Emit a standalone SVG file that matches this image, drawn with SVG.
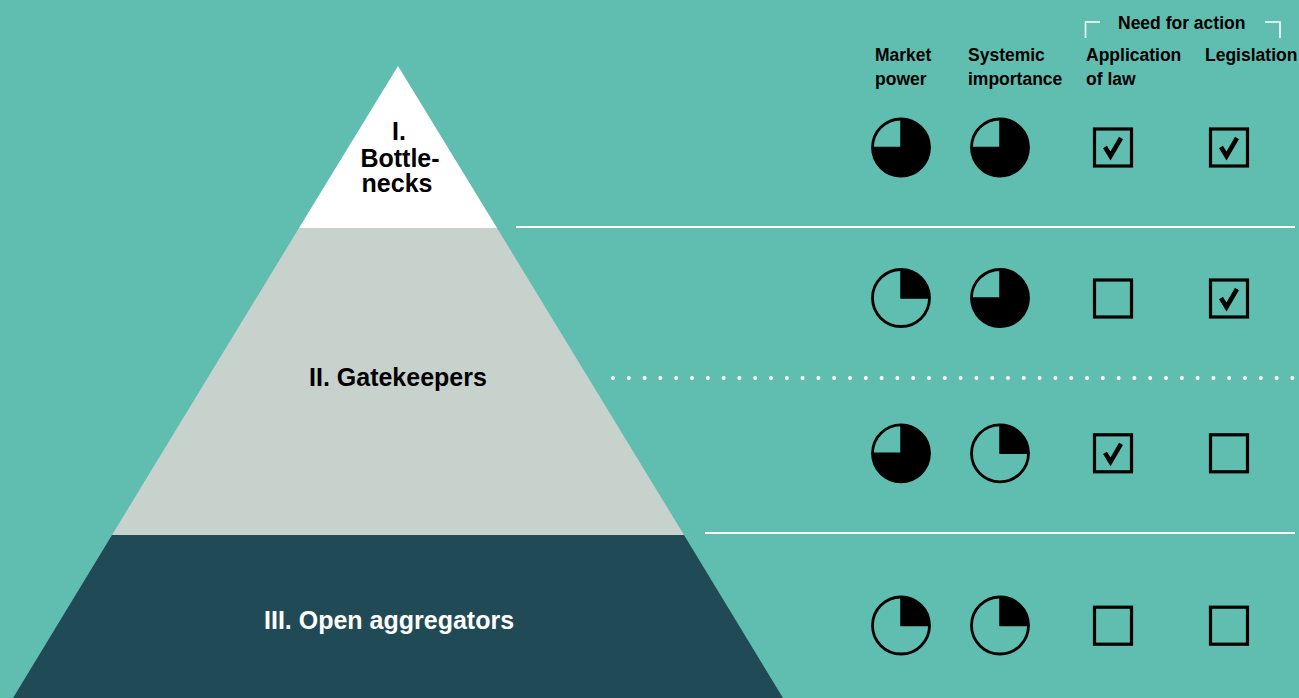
<svg xmlns="http://www.w3.org/2000/svg" xmlns:xlink="http://www.w3.org/1999/xlink" width="1299" height="698" viewBox="0 0 1299 698">
<style>
.hd{font-family:"Liberation Sans",Arial,sans-serif;font-weight:bold;font-size:17.5px;fill:#000}
.lb{font-family:"Liberation Sans",Arial,sans-serif;font-weight:bold;font-size:25px}
.pie-o{fill:none;stroke:#000;stroke-width:2.8}
.pie-f{fill:#000;stroke:#000;stroke-width:1.5;stroke-linejoin:round}
.box{fill:none;stroke:#000;stroke-width:3.2}
.chk{fill:none;stroke:#000;stroke-width:4.5;stroke-linejoin:miter;stroke-linecap:butt}
.sep{stroke:#fff;stroke-width:2;fill:none}
.brk{stroke:#fff;stroke-width:1.6;fill:none}
</style>
<defs>
<g id="pie34"><path class="pie-f" d="M0,0 L0,-28.5 A28.5,28.5 0 1 1 -28.5,0 Z"/><circle class="pie-o" r="28.5"/></g>
<g id="pie14"><path class="pie-f" d="M0,0 L0,-28.5 A28.5,28.5 0 0 1 28.5,0 Z"/><circle class="pie-o" r="28.5"/></g>
<rect id="box" class="box" x="-18.5" y="-18.5" width="37" height="37"/>
<g id="boxc"><rect class="box" x="-18.5" y="-18.5" width="37" height="37"/><polyline class="chk" points="-8,-0.5 -2.5,8.5 8,-9.5"/></g>
</defs>
<rect width="1299" height="698" fill="#5FBEB0"/>

<g id="pyramid-bottlenecks">
<polygon points="398,66 497,228 299,228" fill="#FFFFFF"/>
<text class="lb" fill="#000" text-anchor="middle"><tspan x="399" y="140">I.</tspan><tspan x="400" y="166.5">Bottle-</tspan><tspan x="397" y="192">necks</tspan></text>
</g>
<g id="pyramid-gatekeepers">
<polygon points="299,228 497,228 684,535 112,535" fill="#C8D2CD"/>
<text class="lb" fill="#000" x="309" y="385.5">II. Gatekeepers</text>
</g>
<g id="pyramid-aggregators">
<polygon points="112,535 684,535 783,698 13,698" fill="#214A57"/>
<text class="lb" fill="#fff" x="264" y="628.5">III. Open aggregators</text>
</g>

<g id="connectors">
<line class="sep" x1="516" y1="227" x2="1295" y2="227"/>
<line class="sep" x1="705" y1="533" x2="1295" y2="533"/>
<line x1="613" y1="378" x2="1299" y2="378" stroke="#fff" stroke-width="4" stroke-linecap="round" stroke-dasharray="0 15.8"/>
</g>

<g id="header">
<text class="hd"><tspan x="875" y="61">Market</tspan><tspan x="875" y="84.5">power</tspan></text>
<text class="hd"><tspan x="968" y="61">Systemic</tspan><tspan x="968" y="84.5">importance</tspan></text>
<text class="hd"><tspan x="1086" y="61">Application</tspan><tspan x="1086" y="84.5">of law</tspan></text>
<text class="hd" x="1205" y="61">Legislation</text>
<text class="hd" x="1118" y="29">Need for action</text>
<polyline class="brk" points="1100,22 1085.5,22 1085.5,38"/>
<polyline class="brk" points="1265,22 1280,22 1280,38"/>
</g>

<g id="row-1">
<use xlink:href="#pie34" x="901" y="147.5"/>
<use xlink:href="#pie34" x="1000" y="147.5"/>
<use xlink:href="#boxc" x="1113" y="147.5"/>
<use xlink:href="#boxc" x="1229" y="147.5"/>
</g>
<g id="row-2">
<use xlink:href="#pie14" x="901" y="298"/>
<use xlink:href="#pie34" x="1000" y="298"/>
<use xlink:href="#box" x="1113" y="298.5"/>
<use xlink:href="#boxc" x="1229" y="298.5"/>
</g>
<g id="row-3">
<use xlink:href="#pie34" x="901" y="453.3"/>
<use xlink:href="#pie14" x="1000" y="453.3"/>
<use xlink:href="#boxc" x="1113" y="453.3"/>
<use xlink:href="#box" x="1229" y="453.3"/>
</g>
<g id="row-4">
<use xlink:href="#pie14" x="901" y="625.5"/>
<use xlink:href="#pie14" x="1000" y="625.5"/>
<use xlink:href="#box" x="1113" y="625.7"/>
<use xlink:href="#box" x="1229" y="625.7"/>
</g>
</svg>
